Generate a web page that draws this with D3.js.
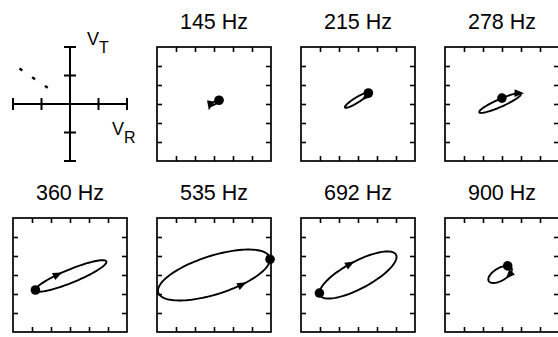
<!DOCTYPE html>
<html lang="en">
<head>
<meta charset="utf-8">
<title>VR-VT trajectories</title>
<script src="https://cdn.jsdelivr.net/npm/d3@7/dist/d3.min.js"></script>
<style>
  body { margin: 0; background: #fff; }
  text { font-family: "Liberation Sans", Arial, sans-serif; fill: #000; }
</style>
</head>
<body>
<script>
var width = 558, height = 337;

// one entry per panel, reading order (R = radial, T = tangential)
var freqs   = ["145 Hz", "215 Hz", "278 Hz", "360 Hz", "535 Hz", "692 Hz", "900 Hz"];
var offR    = [0.03, -0.07, -0.1, 0.05, 0, 0, -0.1];
var offT    = [0.05, 0.2, 0.05, -0.05, 0, 0, 0.03];
var ampR    = [0.25, 0.62, 1.1, 1.87, 2.95, 2.03, 0.62];
var ampT    = [0.15, 0.4, 0.52, 0.83, 1.34, 1.24, 0.45];
var phase   = [30, -24, -25, -27, 52, -40, -55];   // deg, + is counter-clockwise
var dotAt   = [20, -5, -85, 180, 0, 180, -50];     // deg along the cycle
var arrowAt = [175, 40, -25, 248, -60, 258, 40];

// key panel
var keyTicks = [-3, -1.5, 1.5, 3];
var keyDashR = [-2.66, -0.66];
var keyDashT = [1.87, 0.5];

var size = 114, colStep = 144, rowStep = 171, left0 = 13, top0 = 47;

var svg = d3.select("body").append("svg")
    .attr("width", width)
    .attr("height", height);

var x = d3.scaleLinear().domain([-3, 3]).range([0, size]);
var y = d3.scaleLinear().domain([-3, 3]).range([size, 0]);

var rad = Math.PI / 180;

// --- key (axes cross) ---
var key = svg.append("g").attr("transform", "translate(" + left0 + "," + top0 + ")");

key.append("line")
    .attr("x1", x(-3)).attr("x2", x(3)).attr("y1", y(0)).attr("y2", y(0))
    .attr("stroke", "#000").attr("stroke-width", 2);
key.append("line")
    .attr("x1", x(0)).attr("x2", x(0)).attr("y1", y(3)).attr("y2", y(-3))
    .attr("stroke", "#000").attr("stroke-width", 2);

key.selectAll(".tr").data(keyTicks).enter().append("line")
    .attr("x1", d => x(d)).attr("x2", d => x(d))
    .attr("y1", y(0) - 6).attr("y2", y(0) + 6)
    .attr("stroke", "#000").attr("stroke-width", 2);
key.selectAll(".tt").data(keyTicks).enter().append("line")
    .attr("y1", d => y(d)).attr("y2", d => y(d))
    .attr("x1", x(0) - 6).attr("x2", x(0) + 6)
    .attr("stroke", "#000").attr("stroke-width", 2);

key.append("line")
    .attr("x1", x(keyDashR[0])).attr("y1", y(keyDashT[0]))
    .attr("x2", x(keyDashR[1])).attr("y2", y(keyDashT[1]))
    .attr("stroke", "#000").attr("stroke-width", 2.4)
    .attr("stroke-dasharray", "3.5,11.9");

var vt = key.append("text").attr("x", x(0) + 17).attr("y", -2).style("font-size", "18px").text("V");
vt.append("tspan").attr("dy", 8).style("font-size", "16px").text("T");
var vr = key.append("text").attr("x", x(0) + 42).attr("y", y(0) + 31).style("font-size", "18px").text("V");
vr.append("tspan").attr("dy", 8).style("font-size", "16px").text("R");

// --- trajectory panels ---
var line = d3.line().x(d => x(d[0])).y(d => y(d[1]));

function pt(i, t) {
  return [offR[i] + ampR[i] * Math.cos(t * rad),
          offT[i] + ampT[i] * Math.cos((t - phase[i]) * rad)];
}

freqs.forEach(function(f, i) {
  var slot = i + 1;
  var col = slot % 4, row = Math.floor(slot / 4);
  var g = svg.append("g")
      .attr("transform", "translate(" + (left0 + col * colStep) + "," + (top0 + row * rowStep) + ")");

  g.append("text")
      .attr("x", size / 2).attr("y", -18)
      .attr("text-anchor", "middle")
      .style("font-size", "21.5px")
      .text(f);

  g.append("rect")
      .attr("width", size).attr("height", size)
      .attr("fill", "none").attr("stroke", "#000").attr("stroke-width", 1.7);

  var tv = [-2, -1, 0, 1, 2];
  [[d3.axisTop(x), 0, 0], [d3.axisBottom(x), 0, size],
   [d3.axisLeft(y), 0, 0], [d3.axisRight(y), size, 0]].forEach(function(a) {
    var ax = g.append("g")
        .attr("transform", "translate(" + a[1] + "," + a[2] + ")")
        .call(a[0].tickValues(tv).tickSizeInner(-5).tickSizeOuter(0).tickFormat(""));
    ax.select(".domain").remove();
    ax.selectAll("line").attr("stroke-width", 1.6);
  });

  var pts = d3.range(0, 361, 3).map(t => pt(i, t));
  g.append("path")
      .attr("d", line(pts))
      .attr("fill", "none").attr("stroke", "#000").attr("stroke-width", 1.9);

  var d0 = pt(i, dotAt[i]);
  g.append("circle")
      .attr("cx", x(d0[0])).attr("cy", y(d0[1])).attr("r", 4.8)
      .attr("fill", "#000");

  var a0 = pt(i, arrowAt[i]), a1 = pt(i, arrowAt[i] + 2);
  var ang = Math.atan2(y(a1[1]) - y(a0[1]), x(a1[0]) - x(a0[0])) / rad;
  g.append("path")
      .attr("d", "M5,0L-4.5,-3.8L-4.5,3.8Z")
      .attr("transform", "translate(" + x(a0[0]) + "," + y(a0[1]) + ") rotate(" + ang + ")")
      .attr("fill", "#000");
});
</script>
</body>
</html>
